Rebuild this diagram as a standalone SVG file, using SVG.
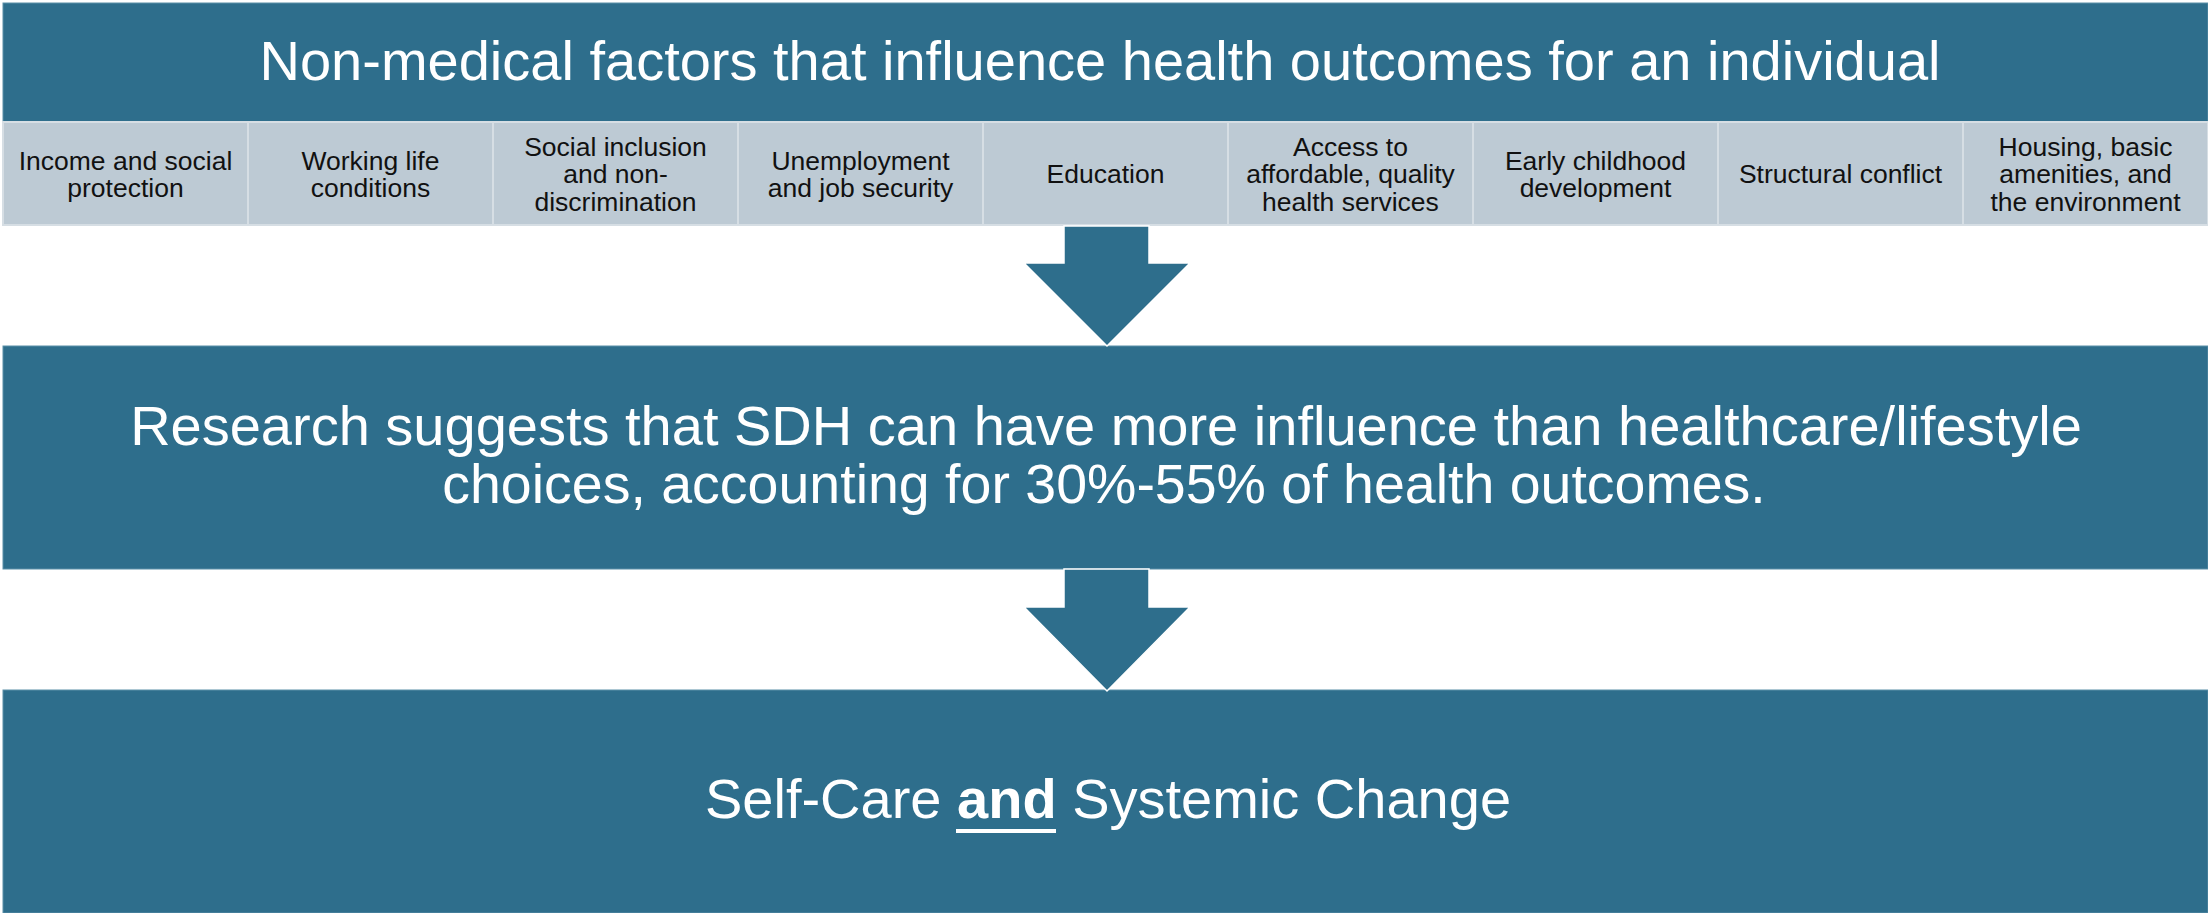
<svg xmlns="http://www.w3.org/2000/svg" width="2208" height="913" viewBox="0 0 2208 913">
  <style>
    .band { fill: #2E6E8C; stroke: #5B8FA8; stroke-width: 1; }
    .cell { fill: #BDCAD4; stroke: #D6DEE4; stroke-width: 2; }
    .arrow { fill: #2E6E8C; stroke: #FFFFFF; stroke-width: 1.5; stroke-linejoin: miter; }
    .big { font-family: "Liberation Sans", Arial, sans-serif; fill: #FFFFFF; text-anchor: middle; }
    .small { font-family: "Liberation Sans", Arial, sans-serif; font-size: 26.5px; fill: #111111; text-anchor: middle; }
  </style>
  <rect x="0" y="0" width="2208" height="913" fill="#FFFFFF"/>

  <!-- Header band with the list of factors -->
  <g id="factors">
    <rect class="band" x="3" y="3" width="2205" height="119"/>
    <text class="big" x="1100" y="80" font-size="56">Non-medical factors that influence health outcomes for an individual</text>

    <g id="cell-income">
      <rect class="cell" x="3" y="122" width="245" height="103"/>
      <text class="small" x="125.5" y="169.5">Income and social</text>
      <text class="small" x="125.5" y="197">protection</text>
    </g>
    <g id="cell-working">
      <rect class="cell" x="248" y="122" width="245" height="103"/>
      <text class="small" x="370.5" y="169.5">Working life</text>
      <text class="small" x="370.5" y="197">conditions</text>
    </g>
    <g id="cell-inclusion">
      <rect class="cell" x="493" y="122" width="245" height="103"/>
      <text class="small" x="615.5" y="155.5">Social inclusion</text>
      <text class="small" x="615.5" y="183">and non-</text>
      <text class="small" x="615.5" y="210.5">discrimination</text>
    </g>
    <g id="cell-unemployment">
      <rect class="cell" x="738" y="122" width="245" height="103"/>
      <text class="small" x="860.5" y="169.5">Unemployment</text>
      <text class="small" x="860.5" y="197">and job security</text>
    </g>
    <g id="cell-education">
      <rect class="cell" x="983" y="122" width="245" height="103"/>
      <text class="small" x="1105.5" y="183">Education</text>
    </g>
    <g id="cell-access">
      <rect class="cell" x="1228" y="122" width="245" height="103"/>
      <text class="small" x="1350.5" y="155.5">Access to</text>
      <text class="small" x="1350.5" y="183">affordable, quality</text>
      <text class="small" x="1350.5" y="210.5">health services</text>
    </g>
    <g id="cell-childhood">
      <rect class="cell" x="1473" y="122" width="245" height="103"/>
      <text class="small" x="1595.5" y="169.5">Early childhood</text>
      <text class="small" x="1595.5" y="197">development</text>
    </g>
    <g id="cell-conflict">
      <rect class="cell" x="1718" y="122" width="245" height="103"/>
      <text class="small" x="1840.5" y="183">Structural conflict</text>
    </g>
    <g id="cell-housing">
      <rect class="cell" x="1963" y="122" width="245" height="103"/>
      <text class="small" x="2085.5" y="155.5">Housing, basic</text>
      <text class="small" x="2085.5" y="183">amenities, and</text>
      <text class="small" x="2085.5" y="210.5">the environment</text>
    </g>
  </g>

  <!-- Research finding -->
  <g id="research">
    <rect class="band" x="3" y="346" width="2205" height="223"/>
    <text class="big" x="1106" y="445" font-size="56">Research suggests that SDH can have more influence than healthcare/lifestyle</text>
    <text class="big" x="1104" y="503" font-size="55.5">choices, accounting for 30%-55% of health outcomes.</text>
  </g>

  <!-- Conclusion -->
  <g id="conclusion">
    <rect class="band" x="3" y="690" width="2205" height="223"/>
    <text class="big" x="1108" y="818" font-size="56">Self-Care <tspan font-weight="bold">and</tspan> Systemic Change</text>
    <rect x="956" y="829" width="100" height="4" fill="#FFFFFF"/>
  </g>

  <!-- Block arrows between the bands -->
  <g id="connectors">
    <path class="arrow" d="M1064,226 L1149,226 L1149,263 L1190,263 L1107,346 L1024,263 L1064,263 Z"/>
    <path class="arrow" d="M1064,569 L1149,569 L1149,607 L1190,607 L1107,691 L1024,607 L1064,607 Z"/>
  </g>
</svg>
